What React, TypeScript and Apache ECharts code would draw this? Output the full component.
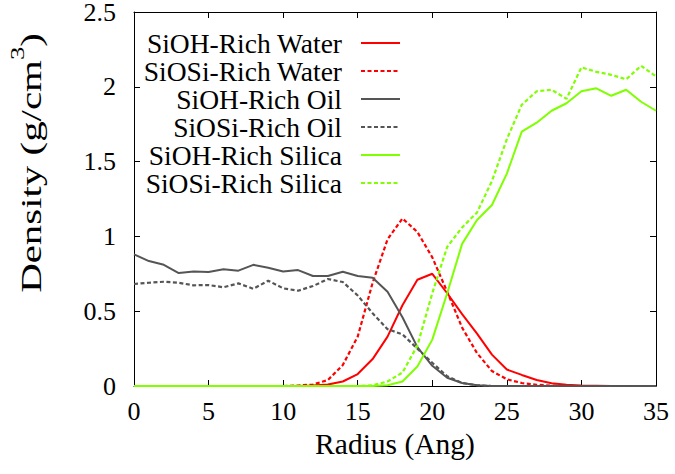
import React, { useEffect, useRef } from "react";
import * as echarts from "echarts";

const radius = [0, 1, 2, 3, 4, 5, 6, 7, 8, 9, 10, 11, 12, 13, 14, 15, 16, 17, 18, 19, 20, 21, 22, 23, 24, 25, 26, 27, 28, 29, 30, 31, 32, 33, 34, 35];

const siohWater = [0, 0, 0, 0, 0, 0, 0, 0, 0, 0, 0, 0, 0.003, 0.01, 0.03, 0.08, 0.18, 0.33, 0.54, 0.71, 0.75, 0.62, 0.48, 0.35, 0.21, 0.11, 0.074, 0.04, 0.018, 0.008, 0.004, 0.002, 0, 0, 0, 0];
const siosiWater = [0, 0, 0, 0, 0, 0, 0, 0, 0, 0, 0, 0.003, 0.01, 0.04, 0.14, 0.33, 0.69, 0.98, 1.12, 1.03, 0.86, 0.63, 0.39, 0.22, 0.1, 0.045, 0.02, 0.008, 0.003, 0, 0, 0, 0, 0, 0, 0];
const siohOil = [0.88, 0.835, 0.81, 0.755, 0.765, 0.762, 0.78, 0.771, 0.81, 0.79, 0.765, 0.775, 0.735, 0.735, 0.764, 0.735, 0.724, 0.63, 0.46, 0.26, 0.135, 0.055, 0.02, 0.005, 0, 0, 0, 0, 0, 0, 0, 0, 0, 0, 0, 0];
const siosiOil = [0.682, 0.69, 0.697, 0.69, 0.673, 0.675, 0.66, 0.686, 0.65, 0.704, 0.653, 0.637, 0.668, 0.715, 0.695, 0.605, 0.486, 0.38, 0.345, 0.25, 0.155, 0.065, 0.02, 0.005, 0, 0, 0, 0, 0, 0, 0, 0, 0, 0, 0, 0];
const siohSilica = [0, 0, 0, 0, 0, 0, 0, 0, 0, 0, 0, 0, 0, 0, 0, 0, 0, 0.005, 0.03, 0.13, 0.31, 0.62, 0.95, 1.11, 1.21, 1.42, 1.7, 1.76, 1.84, 1.89, 1.97, 1.99, 1.94, 1.98, 1.9, 1.84];
const siosiSilica = [0, 0, 0, 0, 0, 0, 0, 0, 0, 0, 0, 0, 0, 0, 0, 0, 0.005, 0.03, 0.09, 0.27, 0.62, 0.93, 1.06, 1.16, 1.37, 1.65, 1.88, 1.97, 1.98, 1.92, 2.13, 2.1, 2.08, 2.05, 2.14, 2.07];

const seriesNames = ["SiOH-Rich Water", "SiOSi-Rich Water", "SiOH-Rich Oil", "SiOSi-Rich Oil", "SiOH-Rich Silica", "SiOSi-Rich Silica"];
const seriesValues = [siohWater, siosiWater, siohOil, siosiOil, siohSilica, siosiSilica];
const seriesColors = ["#ff0000", "#ff0000", "#555555", "#555555", "#7fff00", "#7fff00"];
const seriesDashed = [false, true, false, true, false, true];

const xAxisTitle = "Radius (Ang)";
const yAxisTitle = "{n|Density (g/cm}{sup|3}{n|)}";

const FONT = "Liberation Serif";

export default function App() {
  const ref = useRef<HTMLDivElement>(null);
  useEffect(() => {
    const chart = echarts.init(ref.current!, null, { renderer: "svg" });
    const axisLine = { show: true, onZero: false, lineStyle: { color: "#000", width: 1 } };
    const axisTick = { show: true, inside: true, length: 6, lineStyle: { color: "#000", width: 1 } };
    chart.setOption({
      animation: false,
      backgroundColor: "#fff",
      textStyle: { fontFamily: FONT },
      grid: { left: 134, right: 19, top: 12, bottom: 88, outerBoundsMode: "none", containLabel: false },
      legend: {
        orient: "vertical",
        align: "right",
        right: 274,
        top: 29,
        padding: 0,
        itemWidth: 39,
        itemHeight: 14,
        itemGap: 0,
        data: seriesNames,
        itemStyle: { opacity: 0 },
        textStyle: { fontFamily: FONT, fontSize: 27.5, color: "#000", lineHeight: 26, padding: [0, 14, 0, 0] },
      },
      graphic: [
        {
          type: "text",
          x: 27,
          y: 163,
          rotation: Math.PI / 2,
          scaleX: 1.41,
          style: {
            text: yAxisTitle,
            align: "center",
            verticalAlign: "middle",
            fontFamily: FONT,
            fontSize: 29,
            fill: "#000",
            rich: {
              n: { fontFamily: FONT, fontSize: 29, fill: "#000", verticalAlign: "bottom", lineHeight: 38 },
              sup: { fontFamily: FONT, fontSize: 19, fill: "#000", verticalAlign: "top", lineHeight: 38 },
            },
          },
        },
      ],
      xAxis: [
        {
          type: "value",
          min: 0,
          max: 35,
          interval: 5,
          position: "bottom",
          axisLine,
          axisTick,
          splitLine: { show: false },
          axisLabel: { fontFamily: FONT, fontSize: 26, color: "#000", margin: 12 },
          name: xAxisTitle,
          nameLocation: "middle",
          nameGap: 42,
          nameTextStyle: { fontFamily: FONT, fontSize: 29.5, color: "#000" },
        },
        {
          type: "value",
          min: 0,
          max: 35,
          interval: 5,
          position: "top",
          axisLine,
          axisTick,
          splitLine: { show: false },
          axisLabel: { show: false },
        },
      ],
      yAxis: [
        {
          type: "value",
          min: 0,
          max: 2.5,
          interval: 0.5,
          position: "left",
          axisLine,
          axisTick,
          splitLine: { show: false },
          axisLabel: { fontFamily: FONT, fontSize: 26, lineHeight: 21, color: "#000", margin: 18 },
        },
        {
          type: "value",
          min: 0,
          max: 2.5,
          interval: 0.5,
          position: "right",
          axisLine,
          axisTick,
          splitLine: { show: false },
          axisLabel: { show: false },
        },
      ],
      series: seriesNames.map((name, i) => ({
        name,
        type: "line",
        xAxisIndex: 0,
        yAxisIndex: 0,
        symbol: "none",
        data: radius.map((r, j) => [r, seriesValues[i][j]]),
        itemStyle: { color: seriesColors[i] },
        lineStyle: { color: seriesColors[i], width: seriesDashed[i] ? 2.2 : 2, type: seriesDashed[i] ? [4, 2.5] : "solid" },
      })),
    });
    return () => chart.dispose();
  }, []);
  return <div ref={ref} style={{ position: "absolute", left: 0, top: 0, width: 675, height: 474 }} />;
}
